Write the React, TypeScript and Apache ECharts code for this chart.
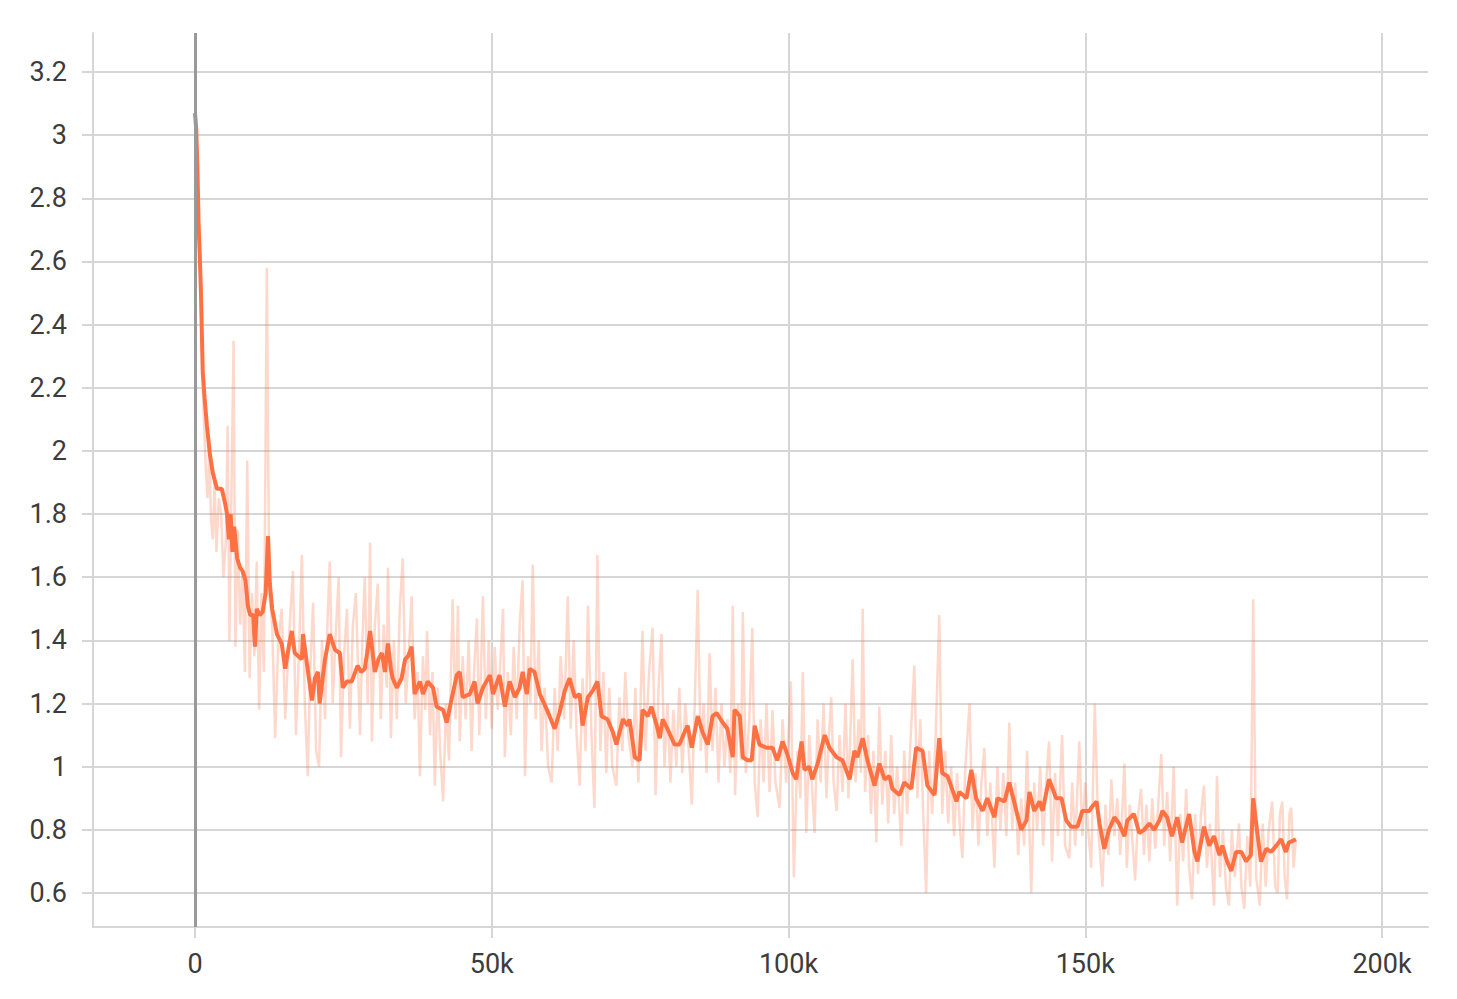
import React, { useEffect, useRef } from "react";
import * as echarts from "echarts";

// steps in thousands
const smoothSteps = [
  0, 0.2, 0.4, 0.6, 0.8, 1.0, 1.3, 1.6, 2.0, 2.5, 3.0, 3.7, 4.5, 5.0, 5.4, 5.7, 6.0, 6.3, 6.6, 7.1,
  7.6, 8.0, 8.5, 8.9, 9.3, 9.8, 10.1, 10.4, 10.9, 11.4, 11.9, 12.3, 12.6, 13.0, 13.8, 14.6, 15.2, 15.8, 16.3, 16.8,
  17.4, 18.0, 18.2, 18.9, 19.7, 20.2, 20.7, 21.0, 21.5, 21.9, 22.7, 23.6, 24.4, 24.9, 25.6, 26.4, 27.4, 28.0, 28.6, 29.0,
  29.5, 30.3, 30.9, 31.5, 32.0, 32.5, 33.0, 33.3, 34.0, 34.8, 35.4, 35.9, 36.5, 37.0, 37.9, 38.4, 39.2, 40.1, 40.7, 41.8,
  42.4, 43.3, 44.1, 44.6, 45.1, 46.3, 47.1, 47.6, 48.5, 49.7, 50.2, 51.3, 52.2, 53.0, 53.9, 54.7, 55.2, 55.9, 56.4, 57.2,
  58.1, 59.3, 60.6, 61.4, 62.3, 63.1, 64.0, 64.8, 65.3, 66.2, 67.0, 67.8, 68.5, 69.5, 70.4, 71.0, 72.1, 72.9, 73.2, 74.1,
  74.9, 75.4, 76.3, 76.9, 77.8, 78.3, 78.8, 79.6, 80.8, 81.6, 82.5, 83.0, 83.7, 84.7, 85.5, 86.4, 87.2, 87.9, 88.9, 89.7,
  90.6, 90.9, 91.8, 92.3, 93.1, 93.8, 94.3, 95.1, 96.3, 97.3, 98.1, 99.0, 99.8, 100.7, 101.3, 102.2, 102.7, 103.5, 104.0, 104.9,
  106.1, 106.9, 108.1, 109.1, 110.3, 111.1, 111.6, 112.5, 113.3, 114.5, 115.3, 116.2, 117.0, 117.5, 118.7, 119.5, 120.7, 121.5, 122.6, 123.4,
  124.6, 125.4, 125.9, 126.8, 128.3, 128.8, 130.0, 130.8, 131.6, 132.7, 133.5, 134.7, 135.2, 136.4, 137.2, 138.4, 139.2, 140.1, 140.6, 141.4,
  142.3, 142.8, 143.9, 145.1, 146.0, 146.8, 147.6, 148.7, 149.5, 150.7, 151.0, 151.9, 152.4, 153.2, 154.0, 154.9, 155.7, 156.6, 157.1, 158.2,
  159.1, 159.9, 160.8, 161.6, 162.5, 163.0, 163.8, 164.6, 165.5, 166.3, 167.5, 168.4, 168.9, 170.0, 170.9, 171.7, 172.6, 173.1, 173.9, 174.6,
  175.4, 176.3, 177.1, 177.9, 178.3, 178.8, 179.6, 180.5, 181.3, 182.2, 183.0, 183.8, 184.3, 185.5,
];
const smoothValues = [
  3.07, 3.02, 2.9, 2.72, 2.62, 2.5, 2.25, 2.17, 2.08, 1.99, 1.93, 1.88, 1.88, 1.84, 1.8, 1.72, 1.8, 1.68, 1.76, 1.66,
  1.63, 1.62, 1.59, 1.51, 1.48, 1.48, 1.38, 1.5, 1.48, 1.49, 1.55, 1.73, 1.58, 1.5, 1.42, 1.39, 1.31, 1.38, 1.43, 1.36,
  1.35, 1.34, 1.42, 1.32, 1.21, 1.28, 1.3, 1.2, 1.28, 1.34, 1.42, 1.37, 1.36, 1.25, 1.27, 1.27, 1.32, 1.3, 1.31, 1.36,
  1.43, 1.3, 1.34, 1.36, 1.3, 1.39, 1.31, 1.28, 1.25, 1.28, 1.34, 1.35, 1.38, 1.23, 1.27, 1.23, 1.27, 1.25, 1.19, 1.18,
  1.14, 1.22, 1.29, 1.3, 1.22, 1.23, 1.27, 1.2, 1.25, 1.29, 1.23, 1.29, 1.19, 1.27, 1.22, 1.25, 1.3, 1.23, 1.31, 1.3,
  1.23, 1.18, 1.12, 1.17, 1.24, 1.28, 1.22, 1.23, 1.13, 1.22, 1.24, 1.27, 1.16, 1.15, 1.11, 1.07, 1.15, 1.13, 1.15, 1.03,
  1.02, 1.18, 1.16, 1.19, 1.13, 1.09, 1.15, 1.12, 1.07, 1.07, 1.11, 1.13, 1.06, 1.16, 1.11, 1.07, 1.16, 1.17, 1.14, 1.12,
  1.03, 1.18, 1.16, 1.03, 1.02, 1.02, 1.13, 1.07, 1.06, 1.06, 1.02, 1.08, 1.04, 0.98, 0.96, 1.08, 0.99, 1.0, 0.96, 1.01,
  1.1, 1.06, 1.03, 1.02, 0.96, 1.05, 1.03, 1.09, 1.02, 0.94, 1.01, 0.96, 0.97, 0.93, 0.91, 0.95, 0.93, 1.06, 1.05, 0.94,
  0.91, 1.09, 0.98, 0.97, 0.89, 0.92, 0.9, 0.99, 0.9, 0.86, 0.9, 0.84, 0.9, 0.89, 0.95, 0.86, 0.8, 0.83, 0.92, 0.86,
  0.89, 0.86, 0.96, 0.9, 0.9, 0.83, 0.81, 0.81, 0.86, 0.86, 0.87, 0.89, 0.82, 0.74, 0.8, 0.84, 0.82, 0.78, 0.83, 0.85,
  0.79, 0.8, 0.82, 0.8, 0.83, 0.86, 0.84, 0.78, 0.84, 0.76, 0.85, 0.73, 0.7, 0.81, 0.75, 0.78, 0.72, 0.75, 0.7, 0.67,
  0.73, 0.73, 0.7, 0.72, 0.9, 0.82, 0.7, 0.74, 0.73, 0.75, 0.77, 0.73, 0.76, 0.77,
];

const rawSteps = [
  0, 0.3, 0.6, 0.9, 1.2, 1.5, 1.8, 2.1, 2.4, 2.7, 3.0, 3.3, 3.6, 4.0, 4.4, 4.8, 5.2, 5.5, 5.8, 6.2,
  6.5, 6.8, 7.2, 7.6, 8.0, 8.4, 8.8, 9.2, 9.6, 10.0, 10.4, 10.8, 11.2, 11.6, 12.1, 12.5, 13.0, 13.5, 14.0, 14.6,
  15.2, 15.8, 16.5, 17.0, 17.5, 18.0, 18.5, 19.0, 19.4, 19.9, 20.4, 20.9, 21.4, 21.9, 22.3, 22.7, 23.2, 23.7, 24.2, 24.6,
  25.1, 25.6, 26.1, 26.6, 27.1, 27.8, 28.2, 28.6, 29.1, 29.5, 29.8, 30.3, 30.8, 31.3, 31.8, 32.3, 32.5, 33.0, 33.5, 34.0,
  34.5, 35.0, 35.5, 36.0, 36.5, 37.0, 37.5, 37.9, 38.4, 38.8, 39.1, 39.6, 40.0, 40.4, 40.9, 41.3, 41.8, 42.3, 42.8, 43.4,
  43.9, 44.3, 44.6, 45.1, 45.6, 46.1, 46.6, 47.0, 47.5, 47.9, 48.5, 49.0, 49.5, 50.0, 50.5, 51.0, 51.5, 51.9, 52.2, 52.7,
  53.2, 53.7, 54.2, 54.7, 55.2, 55.6, 56.1, 56.5, 56.9, 57.4, 57.9, 58.4, 58.9, 59.5, 60.1, 60.6, 61.1, 61.6, 62.2, 62.8,
  63.3, 63.8, 64.3, 64.8, 65.3, 65.8, 66.2, 66.8, 67.3, 67.8, 68.3, 68.8, 69.3, 69.8, 70.3, 71.0, 71.5, 72.0, 72.5, 73.0,
  73.7, 74.2, 74.7, 75.4, 75.9, 76.5, 77.1, 77.6, 78.1, 78.6, 79.1, 79.6, 80.1, 80.6, 81.1, 81.6, 82.1, 82.6, 83.2, 83.7,
  84.2, 84.7, 85.2, 85.7, 86.2, 86.7, 87.2, 87.7, 88.2, 88.7, 89.2, 89.7, 90.2, 90.6, 91.0, 91.5, 92.0, 92.3, 92.8, 93.4,
  93.9, 94.3, 94.8, 95.3, 95.8, 96.3, 96.8, 97.3, 97.8, 98.5, 99.0, 99.6, 100.0, 100.4, 100.9, 101.5, 102.0, 102.4, 103.0, 103.5,
  104.0, 104.4, 104.9, 105.4, 105.9, 106.4, 106.8, 107.2, 107.6, 108.1, 108.6, 109.1, 109.6, 110.1, 110.8, 111.3, 111.8, 112.2, 112.5, 112.9,
  113.4, 113.9, 114.3, 114.8, 115.3, 115.8, 116.3, 116.8, 117.3, 117.8, 118.3, 119.0, 119.5, 120.0, 120.6, 121.2, 121.7, 122.2, 122.7, 123.2,
  123.7, 124.2, 124.8, 125.4, 125.9, 126.4, 126.9, 127.4, 127.9, 128.4, 128.9, 129.3, 129.8, 130.5, 131.0, 131.5, 132.0, 132.5, 133.0, 133.5,
  134.0, 134.7, 135.2, 135.7, 136.2, 136.7, 137.2, 137.7, 138.2, 138.7, 139.2, 139.7, 140.2, 140.9, 141.4, 141.9, 142.4, 142.9, 143.4, 143.9,
  144.4, 144.9, 145.4, 146.1, 146.6, 147.3, 147.8, 148.3, 149.0, 149.5, 150.0, 150.5, 151.0, 151.6, 152.2, 152.9, 153.4, 153.9, 154.4, 154.9,
  155.4, 155.9, 156.6, 157.0, 157.5, 158.0, 158.4, 158.9, 159.4, 159.9, 160.3, 160.8, 161.3, 161.8, 162.3, 162.8, 163.3, 163.8, 164.3, 164.9,
  165.5, 166.0, 166.5, 167.0, 167.5, 168.0, 168.5, 169.0, 169.5, 170.0, 170.5, 171.0, 171.7, 172.2, 172.7, 173.2, 173.7, 174.2, 174.7, 175.2,
  175.9, 176.3, 176.8, 177.3, 177.8, 178.3, 178.8, 179.4, 179.9, 180.4, 180.9, 181.5, 182.0, 182.4, 182.8, 183.2, 183.6, 184.0, 184.4, 184.7,
  185.1, 185.5,
];
const rawValues = [
  3.07, 2.95, 2.7, 2.55, 2.3, 2.1, 1.95, 1.85, 2.0, 1.78, 1.72, 1.9, 1.68, 1.85, 1.8, 1.6, 1.72, 2.08, 1.4, 1.95,
  2.35, 1.38, 1.75, 1.45, 1.62, 1.3, 1.97, 1.28, 1.55, 1.35, 1.65, 1.18, 1.55, 1.3, 2.58, 1.55, 1.45, 1.09, 1.38, 1.5,
  1.15, 1.4, 1.62, 1.1, 1.35, 1.67, 1.2, 0.97, 1.3, 1.52, 1.05, 1.0, 1.4, 1.15, 1.45, 1.65, 1.2, 1.42, 1.6, 1.03,
  1.35, 1.5, 1.12, 1.45, 1.55, 1.1, 1.4, 1.6, 1.2, 1.71, 1.08, 1.45, 1.58, 1.15, 1.45, 1.25, 1.63, 1.09, 1.4, 1.15,
  1.5, 1.66, 1.2, 1.35, 1.54, 1.15, 1.3, 0.97, 1.35, 1.18, 1.43, 1.1, 1.3, 0.94, 1.25, 1.05, 0.89, 1.2, 1.02, 1.53,
  1.15, 1.51, 1.08, 1.35, 1.15, 1.4, 1.05, 1.3, 1.47, 1.1, 1.54, 1.15, 1.4, 1.12, 1.38, 1.18, 1.35, 1.5, 1.03, 1.3,
  1.1, 1.38, 1.15, 1.45, 1.59, 0.97, 1.35, 1.2, 1.64, 1.15, 1.4, 1.05, 1.25, 1.0, 0.95, 1.25, 1.05, 1.35, 1.15, 1.54,
  1.12, 1.4, 1.1, 0.94, 1.28, 1.05, 1.51, 1.1, 0.87, 1.67, 1.05, 1.3, 0.98, 1.25, 1.0, 0.94, 1.22, 1.05, 1.3, 1.1,
  1.0, 1.25, 0.95, 1.43, 1.05, 1.3, 1.44, 0.91, 1.25, 1.42, 1.0, 1.2, 0.95, 1.18, 1.0, 1.25, 0.98, 1.2, 1.05, 0.88,
  1.2, 1.56, 1.05, 1.2, 0.98, 1.36, 1.05, 1.25, 0.95, 1.2, 1.0, 1.15, 0.98, 1.51, 0.91, 1.2, 1.02, 1.49, 0.98, 1.15,
  1.44, 0.95, 0.84, 1.15, 0.95, 1.2, 0.92, 1.18, 0.95, 0.87, 1.15, 0.95, 1.1, 1.27, 0.65, 1.05, 0.9, 1.3, 0.79, 1.1,
  0.92, 0.79, 1.15, 0.95, 1.2, 0.9, 1.1, 1.22, 0.95, 0.86, 1.1, 0.92, 1.2, 0.9, 1.34, 0.95, 1.15, 0.98, 1.5, 0.92,
  1.1, 0.85, 1.05, 0.76, 1.19, 0.88, 1.05, 0.82, 1.1, 0.85, 1.0, 0.75, 1.05, 0.85, 1.1, 1.32, 0.9, 1.15, 0.85, 0.6,
  1.05, 0.85, 1.1, 1.48, 0.85, 1.05, 0.82, 1.0, 0.78, 0.98, 0.8, 0.71, 1.0, 1.2, 0.8, 0.98, 0.75, 0.95, 1.06, 0.78,
  0.95, 0.68, 1.0, 0.8, 0.98, 0.78, 1.14, 0.8, 0.95, 0.72, 0.9, 0.75, 1.05, 0.6, 0.95, 0.8, 1.0, 0.75, 0.95, 1.08,
  0.7, 0.98, 0.78, 1.1, 0.75, 0.71, 0.95, 0.75, 1.08, 0.78, 0.95, 0.8, 0.68, 1.2, 0.8, 0.62, 0.88, 0.72, 0.96, 0.78,
  0.9, 0.72, 1.01, 0.68, 0.88, 0.75, 0.64, 0.85, 0.93, 0.72, 0.88, 0.7, 0.9, 0.74, 0.88, 1.04, 0.75, 0.92, 0.7, 1.0,
  0.56, 0.85, 0.7, 0.93, 0.68, 0.58, 0.85, 0.66, 0.85, 0.94, 0.68, 0.82, 0.56, 0.97, 0.65, 0.8, 0.62, 0.56, 0.8, 0.65,
  0.82, 0.62, 0.55, 0.78, 0.62, 1.53, 0.65, 0.56, 0.82, 0.62, 0.8, 0.89, 0.62, 0.6, 0.85, 0.89, 0.65, 0.58, 0.85, 0.87,
  0.68, 0.77,
];

const xTicks = [0, 50, 100, 150, 200];
const xTickLabels = ["0", "50k", "100k", "150k", "200k"];
const yTicks = [0.6, 0.8, 1, 1.2, 1.4, 1.6, 1.8, 2, 2.2, 2.4, 2.6, 2.8, 3, 3.2];

export default function App() {
  const ref = useRef<HTMLDivElement>(null);
  useEffect(() => {
    const chart = echarts.init(ref.current!, null, { renderer: "svg" });
    const gridColor = "#d6d6d6";
    const labelStyle = { color: "#3c3c3c", fontSize: 27, fontFamily: "Roboto" };
    const raw = rawSteps.map((s, i) => [s, rawValues[i]]);
    const smooth = smoothSteps.map((s, i) => [s, smoothValues[i]]);
    chart.setOption({
      animation: false,
      backgroundColor: "#ffffff",
      grid: { left: 93, right: 29, top: 33, bottom: 72 },
      xAxis: {
        type: "value",
        min: -17.19,
        max: 207.75,
        axisLine: { show: true, onZero: false, lineStyle: { color: gridColor, width: 2 } },
        axisTick: { show: true, length: 11, customValues: xTicks, lineStyle: { color: gridColor, width: 2 } },
        axisLabel: {
          ...labelStyle,
          margin: 23,
          customValues: xTicks,
          formatter: (v: number) => {
            const i = xTicks.indexOf(v);
            return i >= 0 ? xTickLabels[i] : "";
          },
        },
        splitLine: { show: true, lineStyle: { color: gridColor, width: 2 } },
      },
      yAxis: {
        type: "value",
        min: 0.4923,
        max: 3.3235,
        axisLine: { show: true, onZero: false, lineStyle: { color: gridColor, width: 2 } },
        axisTick: { show: true, length: 11, customValues: yTicks, lineStyle: { color: gridColor, width: 2 } },
        axisLabel: { ...labelStyle, margin: 26, customValues: yTicks },
        splitLine: { show: true, lineStyle: { color: gridColor, width: 2 } },
      },
      series: [
        {
          type: "line",
          data: [],
          silent: true,
          markLine: {
            silent: true,
            symbol: "none",
            label: { show: false },
            lineStyle: { color: "#999999", width: 3, type: "solid" },
            data: [{ xAxis: 0 }],
          },
        },
        {
          type: "line",
          data: raw,
          showSymbol: false,
          silent: true,
          lineStyle: { color: "#ff7043", width: 2.5, opacity: 0.27 },
        },
        {
          type: "line",
          data: smooth,
          showSymbol: false,
          silent: true,
          lineStyle: { color: "#ff7043", width: 4 },
        },
      ],
    });
    return () => chart.dispose();
  }, []);
  return (
    <div
      ref={ref}
      style={{ position: "absolute", left: 0, top: 0, width: 1457, height: 999, background: "#fff" }}
    />
  );
}
